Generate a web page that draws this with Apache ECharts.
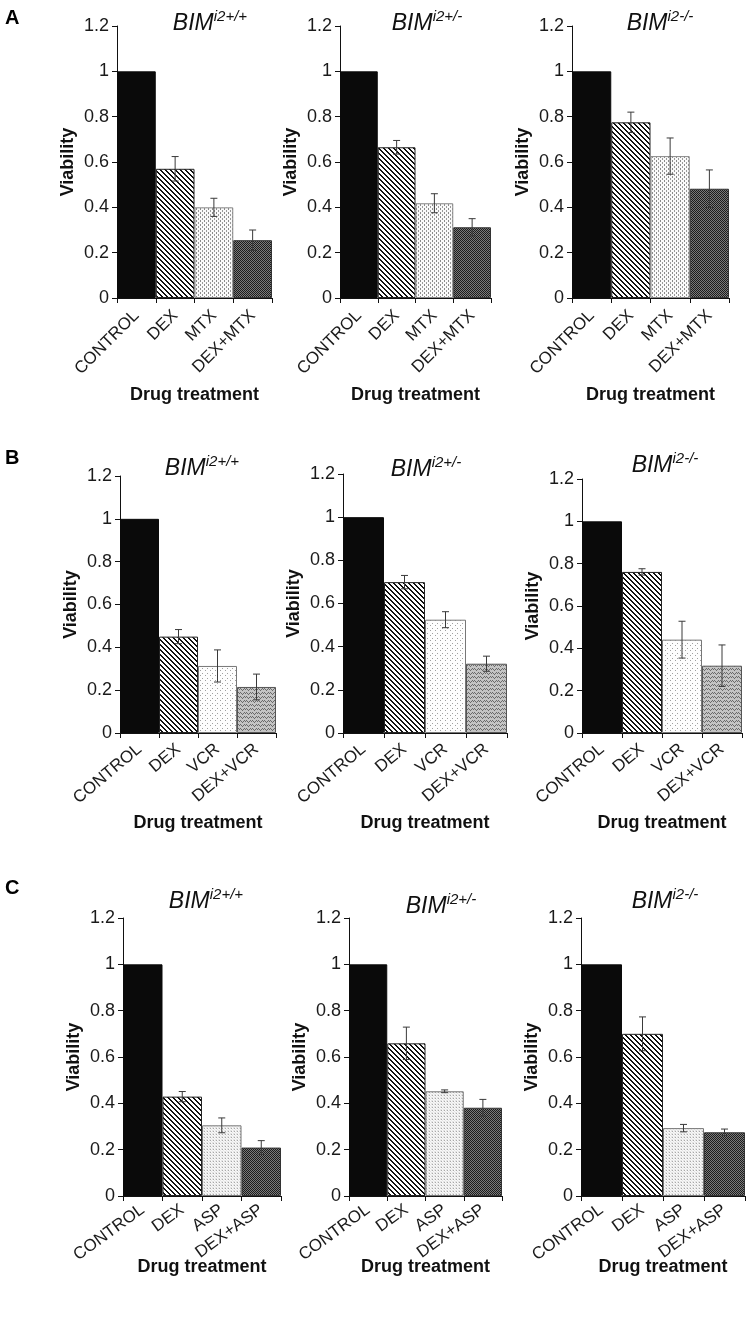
<!DOCTYPE html>
<html><head><meta charset="utf-8">
<script src="https://cdn.jsdelivr.net/npm/echarts@6/dist/echarts.min.js"></script>
<style>html,body{margin:0;padding:0;background:#fff}#c{width:749px;height:1318px}</style>
</head><body><div id="c"></div>
<script>
// ---------------- DATA ----------------
const panelLetters = ['A', 'B', 'C'];
const genotypes = ['i2+/+', 'i2+/-', 'i2-/-'];
const yTickLabels = ['0', '0.2', '0.4', '0.6', '0.8', '1', '1.2'];
const xAxisTitle = 'Drug treatment';
const yAxisTitle = 'Viability';

const categoriesA = ['CONTROL', 'DEX', 'MTX', 'DEX+MTX'];
const categoriesB = ['CONTROL', 'DEX', 'VCR', 'DEX+VCR'];
const categoriesC = ['CONTROL', 'DEX', 'ASP', 'DEX+ASP'];

const viabilityA_wt  = [1, 0.57, 0.40, 0.255];
const errorA_wt      = [0, 0.054, 0.04, 0.045];
const viabilityA_het = [1, 0.665, 0.418, 0.312];
const errorA_het     = [0, 0.03, 0.042, 0.038];
const viabilityA_ko  = [1, 0.775, 0.626, 0.482];
const errorA_ko      = [0, 0.045, 0.08, 0.083];

const viabilityB_wt  = [1, 0.45, 0.313, 0.215];
const errorB_wt      = [0, 0.033, 0.075, 0.06];
const viabilityB_het = [1, 0.699, 0.525, 0.321];
const errorB_het     = [0, 0.031, 0.037, 0.035];
const viabilityB_ko  = [1, 0.761, 0.441, 0.318];
const errorB_ko      = [0, 0.015, 0.087, 0.098];

const viabilityC_wt  = [1, 0.429, 0.305, 0.209];
const errorC_wt      = [0, 0.022, 0.032, 0.03];
const viabilityC_het = [1, 0.659, 0.452, 0.381];
const errorC_het     = [0, 0.07, 0.006, 0.036];
const viabilityC_ko  = [1, 0.70, 0.293, 0.275];
const errorC_ko      = [0, 0.073, 0.016, 0.014];

// ---------------- PATTERNS ----------------
function tile(w, h, fn) {
  const c = document.createElement('canvas');
  c.width = w; c.height = h;
  const ctx = c.getContext('2d');
  for (let y = 0; y < h; y++) for (let x = 0; x < w; x++) {
    ctx.fillStyle = fn(x, y);
    ctx.fillRect(x, y, 1, 1);
  }
  return { image: c, repeat: 'repeat' };
}
const patSolid = '#0a0a0a';
const patStripes = tile(5, 5, (x, y) => (((x - y) % 5 + 5) % 5 < 2 ? '#111' : '#fff'));
const patDashCols = tile(4, 4, (x, y) => {
  if (x === 0 && y < 2) return '#8a8a8a';
  if (x === 2 && y >= 2) return '#9a9a9a';
  return '#fafafa';
});
const patDarkCheck = tile(2, 2, (x, y) => ((x + y) % 2 === 0 ? '#1c1c1c' : '#7a7a7a'));
const patSparseDots = tile(5, 5, (x, y) => ((x === 0 && y === 0) || (x === 2 && y === 3) ? '#a0a0a0' : '#fdfdfd'));
const patWave = tile(6, 4, (x, y) => {
  const r = ['x...x.', '.x.x.x', '..x...', '......'];
  return r[y][x] === 'x' ? '#6a6a6a' : '#c4c4c4';
});
const patLightDots = tile(3, 3, (x, y) => ((x === 0 && y === 0) ? '#a8a8a8' : ((x + y) % 2 === 0 ? '#e4e4e4' : '#f8f8f8')));

const patternsA = [patSolid, patStripes, patDashCols, patDarkCheck];
const patternsB = [patSolid, patStripes, patSparseDots, patWave];
const patternsC = [patSolid, patStripes, patLightDots, patDarkCheck];
const bordersA = ['#0a0a0a', '#222', '#888', '#333'];
const bordersB = ['#0a0a0a', '#222', '#777', '#555'];
const bordersC = ['#0a0a0a', '#222', '#777', '#333'];

// ---------------- LAYOUT ----------------
const FONT = '"Liberation Sans", Arial, sans-serif';
const panels = [
  { cats: categoriesA, pats: patternsA, brd: bordersA, rot: 45, gap: 88, margin: 15,
    sets: [[viabilityA_wt, errorA_wt], [viabilityA_het, errorA_het], [viabilityA_ko, errorA_ko]],
    grids: [[117, 26, 155, 272], [340, 26, 151, 272], [572, 26, 157, 272]],
    titles: [[210, 22], [427, 22], [660, 22]], letter: [5, 8] },
  { cats: categoriesB, pats: patternsB, brd: bordersB, rot: 40, gap: 81, margin: 14,
    sets: [[viabilityB_wt, errorB_wt], [viabilityB_het, errorB_het], [viabilityB_ko, errorB_ko]],
    grids: [[120, 476, 156, 257], [343, 474, 164, 259], [582, 479, 160, 254]],
    titles: [[202, 467], [426, 468], [665, 464]], letter: [5, 448] },
  { cats: categoriesC, pats: patternsC, brd: bordersC, rot: 36, gap: 62, margin: 12,
    sets: [[viabilityC_wt, errorC_wt], [viabilityC_het, errorC_het], [viabilityC_ko, errorC_ko]],
    grids: [[123, 918, 158, 278], [349, 918, 153, 278], [581, 918, 164, 278]],
    titles: [[206, 900], [441, 905], [665, 900]], letter: [5, 878] }
];

const grid = [], xAxis = [], yAxis = [], series = [], graphic = [];
let gi = 0;
panels.forEach((p, pi) => {
  graphic.push({ type: 'text', x: p.letter[0], y: p.letter[1],
    style: { text: panelLetters[pi], font: 'bold 20px ' + FONT, fill: '#000' } });
  p.sets.forEach((set, si) => {
    const g = p.grids[si];
    grid.push({ left: g[0], top: g[1], width: g[2], height: g[3] });
    xAxis.push({
      type: 'category', gridIndex: gi, data: p.cats,
      axisLine: { lineStyle: { color: '#111', width: 1 } },
      axisTick: { show: true, length: 5, lineStyle: { color: '#111' } },
      axisLabel: { rotate: p.rot, margin: p.margin, fontSize: 17, color: '#1a1a1a', fontFamily: FONT, interval: 0 },
      name: xAxisTitle, nameLocation: 'middle', nameGap: p.gap, nameMoveOverlap: false,
      nameTextStyle: { fontSize: 18, fontWeight: 'bold', color: '#111', fontFamily: FONT }
    });
    yAxis.push({
      type: 'value', gridIndex: gi, min: 0, max: 1.2, interval: 0.2,
      splitLine: { show: false },
      axisLine: { show: true, lineStyle: { color: '#111', width: 1 } },
      axisTick: { show: true, length: 5, lineStyle: { color: '#111' } },
      axisLabel: { margin: 8, fontSize: 18, color: '#1a1a1a', fontFamily: FONT,
        formatter: (v) => yTickLabels[Math.round(v / 0.2)] },
      name: yAxisTitle, nameLocation: 'middle', nameGap: 40, nameMoveOverlap: false,
      nameTextStyle: { fontSize: 18, fontWeight: 'bold', color: '#111', fontFamily: FONT }
    });
    const vals = set[0], errs = set[1];
    series.push({
      type: 'bar', xAxisIndex: gi, yAxisIndex: gi, barCategoryGap: '0%', barWidth: '100%',
      silent: true, animation: false,
      data: vals.map((v, i) => ({ value: v, itemStyle: { color: p.pats[i], borderColor: p.brd[i], borderWidth: 1 } }))
    });
    series.push({
      type: 'custom', xAxisIndex: gi, yAxisIndex: gi, silent: true, animation: false, z: 5,
      data: vals.map((v, i) => [i, v, errs[i]]),
      renderItem: (params, api) => {
        const x = api.value(0), v = api.value(1), e = api.value(2);
        if (!e) return null;
        const t = api.coord([x, v + e]), b = api.coord([x, v - e]);
        const hw = 3.5, st = { stroke: '#3a3a3a', lineWidth: 1 };
        return { type: 'group', children: [
          { type: 'line', shape: { x1: t[0], y1: t[1], x2: b[0], y2: b[1] }, style: st },
          { type: 'line', shape: { x1: t[0] - hw, y1: t[1], x2: t[0] + hw, y2: t[1] }, style: st },
          { type: 'line', shape: { x1: b[0] - hw, y1: b[1], x2: b[0] + hw, y2: b[1] }, style: st }
        ] };
      }
    });
    graphic.push({ type: 'text', x: p.titles[si][0], y: p.titles[si][1],
      style: { text: '{m|BIM}{s|' + genotypes[si] + '}', align: 'center', verticalAlign: 'middle',
        rich: {
          m: { fontSize: 23, fontStyle: 'italic', fontFamily: FONT, fill: '#111', lineHeight: 26, verticalAlign: 'bottom' },
          s: { fontSize: 15, fontStyle: 'italic', fontFamily: FONT, fill: '#111', lineHeight: 26, verticalAlign: 'top', padding: [0, 0, 10, 0] }
        } } });
    gi++;
  });
});

const chart = echarts.init(document.getElementById('c'), null, { renderer: 'canvas' });
chart.setOption({ animation: false, backgroundColor: '#fff', grid, xAxis, yAxis, series, graphic });
</script></body></html>
